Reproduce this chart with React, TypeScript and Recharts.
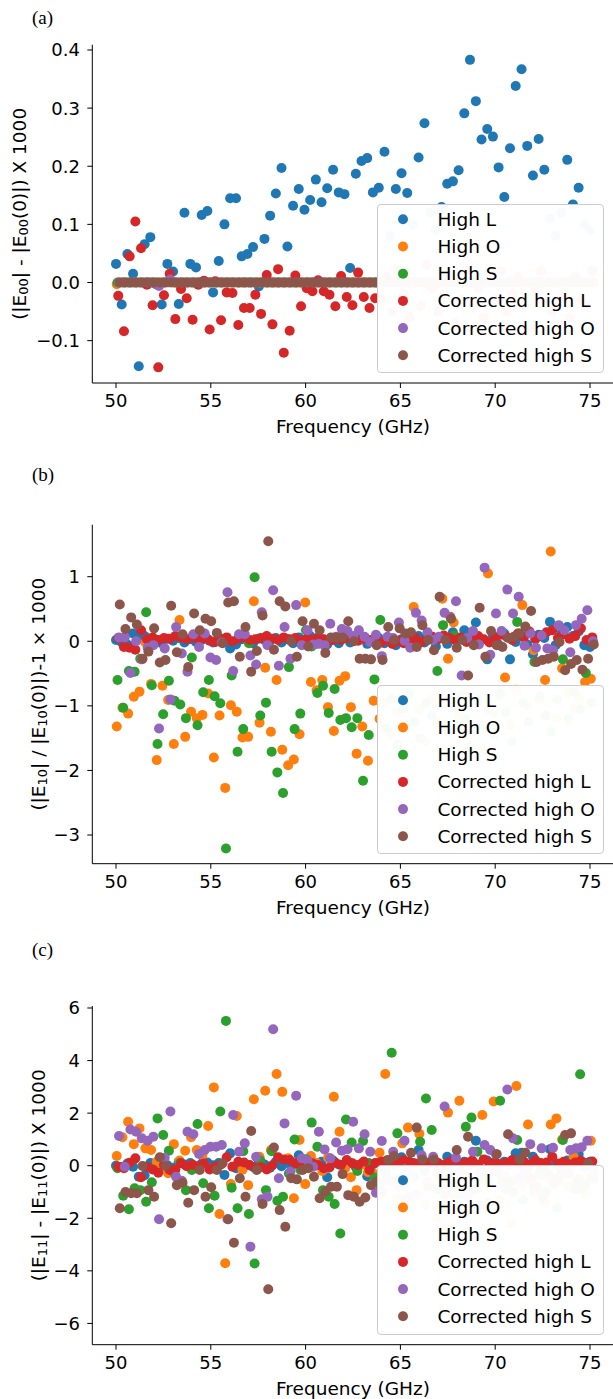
import React from 'react';
import { ScatterChart, Scatter, XAxis, YAxis, Legend } from 'recharts';

// ---------- data ----------
const frequencies = [
  50.00, 50.30, 50.60, 50.90, 51.20, 51.51, 51.81, 52.11, 52.41, 52.71,
  53.01, 53.31, 53.61, 53.92, 54.22, 54.52, 54.82, 55.12, 55.42, 55.72,
  56.02, 56.33, 56.63, 56.93, 57.23, 57.53, 57.83, 58.13, 58.43, 58.73,
  59.04, 59.34, 59.64, 59.94, 60.24, 60.54, 60.84, 61.14, 61.45, 61.75,
  62.05, 62.35, 62.65, 62.95, 63.25, 63.55, 63.86, 64.16, 64.46, 64.76,
  65.06, 65.36, 65.66, 65.96, 66.27, 66.57, 66.87, 67.17, 67.47, 67.77,
  68.07, 68.37, 68.67, 68.98, 69.28, 69.58, 69.88, 70.18, 70.48, 70.78,
  71.08, 71.39, 71.69, 71.99, 72.29, 72.59, 72.89, 73.19, 73.49, 73.80,
  74.10, 74.40, 74.70, 75.00,
];

const seriesNames = ['High L', 'High O', 'High S', 'Corrected high L', 'Corrected high O', 'Corrected high S'];
const seriesColors = ['#1f77b4', '#ff7f0e', '#2ca02c', '#d62728', '#9467bd', '#8c564b'];
// small per-series frequency shift seen in the plot (GHz)
const seriesFreqShift = [0, 0.04, 0.08, 0.12, 0.16, 0.2];

const xTicks = [50, 55, 60, 65, 70, 75];
const yTicksA = [-0.1, 0, 0.1, 0.2, 0.3, 0.4];
const yTicksB = [-3, -2, -1, 0, 1];
const yTicksC = [-6, -4, -2, 0, 2, 4, 6];

// panel (a)
const aHighL = [
  0.032, -0.038, 0.049, 0.015, -0.144, 0.066, 0.078, -0.003, -0.038, 0.032,
  0.019, -0.037, 0.120, 0.032, 0.026, 0.116, 0.123, -0.017, 0.037, 0.100,
  0.145, 0.145, 0.045, 0.049, 0.061, -0.007, 0.075, 0.115, 0.153, 0.197,
  0.062, 0.132, 0.161, 0.125, 0.142, 0.177, 0.138, 0.162, 0.194, 0.155,
  0.152, 0.025, 0.187, 0.209, 0.214, 0.155, 0.163, 0.225, 0.080, 0.161,
  0.188, 0.154, 0.100, 0.215, 0.274, 0.120, 0.090, 0.130, 0.170, 0.174,
  0.193, 0.291, 0.383, 0.312, 0.246, 0.264, 0.251, 0.198, 0.147, 0.231,
  0.338, 0.367, 0.235, 0.184, 0.247, 0.194, 0.110, 0.080, 0.120, 0.211,
  0.134, 0.163, 0.100, 0.090,
];
const aHighO = [
  -0.003, 0, 0, 0, 0, 0, 0, 0, 0, 0,
  0, 0, 0, 0, 0, 0, 0, 0, 0, 0,
  0, 0, 0, 0, 0, 0, 0, 0, 0, 0,
  0, 0, 0, 0, 0, 0, 0, 0, 0, 0,
  0, 0, 0, 0, 0, 0, 0, 0, 0, 0,
  0, 0, 0, 0, 0, 0, 0, 0, 0, 0,
  0, 0, 0, 0, 0, 0, 0, 0, 0, 0,
  0, 0, 0, 0, 0, 0, 0, 0, 0, 0,
  0, 0, 0, 0,
];
const aHighS = [
  0, 0, 0, 0, 0, 0, 0, 0, 0, 0.002,
  0, 0, 0, 0, 0, 0, 0, 0, 0, 0,
  0, 0, 0, 0, 0, 0, 0, 0, 0, 0,
  0, 0, 0, 0, 0, 0, 0, 0, 0, 0,
  0, 0, 0, 0, 0, 0, 0, 0, 0, 0,
  0, 0, 0, 0, 0, 0, 0, 0, 0, 0,
  0, 0, 0, 0, 0, 0, 0, 0, 0, 0,
  0, 0, 0, 0, 0, 0, 0, 0, 0, 0,
  0, 0, 0, 0,
];
const aCorrL = [
  -0.023, -0.084, 0.045, 0.105, 0.059, -0.004, -0.039, -0.146, -0.022, 0.015,
  -0.063, -0.011, -0.027, -0.064, -0.004, 0.003, -0.081, 0.002, -0.065, -0.017,
  -0.018, -0.073, -0.044, -0.044, -0.021, -0.054, 0.013, -0.072, 0.023, -0.121,
  -0.083, 0.012, -0.041, -0.010, -0.015, 0.004, -0.015, -0.021, -0.041, 0.011,
  -0.025, -0.039, 0.017, -0.025, -0.044, -0.027, -0.030, 0.010, -0.050, 0.020,
  -0.020, -0.060, 0.000, -0.040, 0.030, -0.010, -0.050, -0.020, 0.010, -0.070,
  -0.030, 0.020, -0.040, -0.010, -0.060, 0.000, -0.030, 0.020, -0.050, -0.020,
  0.010, -0.040, -0.080, -0.010, 0.020, -0.030, -0.050, 0.000, -0.020, -0.060,
  0.010, -0.030, -0.040, 0.020,
];
const aCorrO = [
  0, 0, 0, 0, 0, 0, 0, -0.006, 0, 0.005,
  0, 0, 0, 0, 0, 0, 0, 0, 0, 0,
  0, 0, 0, 0, 0, 0, 0, 0, 0, 0,
  0, 0, 0, 0, 0, 0, 0, 0, 0, 0,
  0, 0, 0, 0, 0, 0, 0, 0, 0, 0,
  0, 0, 0, 0, 0, 0, 0, 0, 0, 0,
  0, 0, 0, 0, 0, 0, 0, 0, 0, 0,
  0, 0, 0, 0, 0, 0, 0, 0, 0, 0,
  0, 0, 0, 0,
];
const aCorrS = [
  0, 0, 0, 0, 0, 0, 0, 0, 0, 0,
  0, 0, 0, 0, 0, 0, 0, 0, 0, 0,
  0, 0, 0, 0, 0, 0, 0, 0, 0, 0,
  0, 0, 0, 0, 0, 0, 0, 0, 0, 0,
  0, 0, 0, 0, 0, 0, 0, 0, 0, 0,
  0, 0, 0, 0, 0, 0, 0, 0, 0, 0,
  0, 0, 0, 0, 0, 0, 0, 0, 0, 0,
  0, 0, 0, 0, 0, 0, 0, 0, 0, 0,
  0, 0, 0, 0,
];

// panel (b)
const bHighL = [
  0.02, -0.02, -0.05, 0.12, 0.05, 0.08, 0.03, 0.02, -0.03, 0.04,
  0.01, 0.05, -0.02, 0.03, -0.01, 0.02, 0.04, -0.02, 0.06, 0.01,
  -0.11, -0.05, 0.03, 0.02, -0.03, 0.04, 0.02, 0.01, 0.05, -0.02,
  0.03, -0.03, 0.06, 0.02, 0.08, -0.04, 0.03, -0.05, 0.02, -0.03,
  0.05, -0.02, 0.03, 0.07, -0.04, 0.02, 0.05, -0.03, 0.04, -0.06,
  0.03, 0.06, -0.05, 0.08, -0.02, 0.05, -0.08, 0.05, -0.04, 0.14,
  0.04, 0.17, 0.06, 0.29, 0.03, -0.28, 0.08, -0.05, 0.12, -0.28,
  -0.01, 0.09, -0.05, -0.20, 0.10, 0.05, 0.30, -0.06, 0.12, 0.22,
  0.08, 0.15, -0.06, -0.09,
];
const bHighO = [
  -1.32, -1.03, -1.12, -0.86, -0.78, -0.02, -0.66, -1.84, -0.69, -0.91,
  -1.59, 0.33, -1.48, -1.09, -1.19, -1.14, -0.81, -1.80, -1.15, -2.27,
  -0.99, -1.09, -1.49, -1.48, 0.62, -1.26, -0.41, -1.40, -0.60, -1.68,
  -1.92, -1.83, -1.44, 0.60, -0.63, -0.76, -0.60, -1.02, -1.39, -0.61,
  -0.54, -1.02, -1.74, -1.32, -1.85, -0.92, -1.20, -0.95, -1.45, -1.10,
  -0.85, -1.30, 0.53, -1.05, -1.55, -0.90, -1.25, 0.66, -0.27, 0.29,
  -1.15, -0.80, -1.40, -0.95, -1.70, 1.05, -1.10, -0.85, -0.56, -1.30,
  -0.75, 0.56, -1.00, -0.14, -0.90, -0.60, 1.39, -1.20, -0.42, -0.80,
  -1.05, -0.88, -0.63, -0.58,
];
const bHighS = [
  -0.60, -1.03, -0.46, -0.47, -0.27, 0.45, -0.68, -1.59, -1.13, -0.61,
  -0.92, -0.98, -1.19, -0.25, -1.30, -0.79, -0.60, -0.85, -0.96, -3.21,
  -0.53, -1.71, -1.36, -0.03, 0.99, -1.15, -0.95, -1.71, -2.03, -2.35,
  -0.40, -1.36, -1.12, 0.17, -0.08, -0.80, -0.69, -1.11, -0.74, -1.22,
  -1.19, -1.33, -1.19, -2.16, -1.45, -0.59, 0.33, -1.35, -0.90, -1.60,
  -1.05, -0.80, -1.25, -1.50, -0.95, -1.15, -0.46, 0.25, -1.40, 0.09,
  -0.85, -1.20, -1.65, -0.90, -1.30, -1.05, -1.45, -0.80, -1.10, -1.55,
  0.30, -0.95, -1.25, -0.32, -0.85, -1.15, -1.40, -0.90, -0.28, -1.20,
  -0.78, -1.05, -0.49, -0.95,
];
const bCorrL = [
  0.05, -0.09, -0.10, -0.13, 0.17, 0.03, 0.06, 0.02, 0.05, 0.04,
  0.08, 0.06, 0.03, 0.07, 0.02, 0.05, 0.01, -0.01, 0.03, 0.06,
  0.00, 0.04, 0.07, 0.02, 0.03, 0.05, 0.08, 0.04, 0.02, 0.06,
  0.03, 0.05, 0.01, 0.04, 0.02, 0.06, 0.03, 0.00, 0.04, 0.02,
  0.05, 0.03, 0.01, 0.04, 0.02, 0.00, -0.02, 0.03, -0.04, 0.01,
  -0.03, 0.02, 0.05, -0.02, 0.04, 0.07, 0.03, 0.09, 0.05, 0.02,
  0.06, -0.01, 0.04, 0.08, 0.03, -0.02, 0.05, 0.10, 0.07, 0.02,
  0.12, 0.06, 0.15, 0.03, 0.09, 0.14, 0.17, 0.05, 0.11, 0.04,
  0.08, 0.20, 0.02, 0.06,
];
const bCorrO = [
  0.06, 0.06, -0.49, 0.00, -0.28, -0.10, -0.06, -1.35, -0.11, -0.90,
  0.22, -0.19, -0.47, 0.11, -0.09, 0.12, -0.25, -0.29, -0.02, 0.76,
  -0.46, 0.11, 0.11, -0.22, -0.36, 0.45, -0.06, 0.79, -0.38, 0.22,
  -0.27, 0.56, -0.06, 0.17, -0.05, -0.04, -0.06, 0.27, 0.07, 0.19,
  0.16, 0.08, 0.17, 0.07, -0.01, 0.10, -0.23, 0.07, 0.05, 0.29,
  0.01, -0.10, 0.44, 0.32, 0.14, 0.02, 0.07, 0.44, 0.38, 0.62,
  -0.53, 0.05, 0.16, -0.05, 1.14, -0.21, 0.43, 0.16, 0.80, 0.43,
  0.69, -0.07, 0.12, -0.10, 0.09, -0.11, -0.14, 0.25, 0.17, -0.17,
  0.25, 0.35, 0.48, 0.00,
];
const bCorrS = [
  0.57, 0.19, 0.37, 0.26, -0.27, -0.16, 0.20, -0.33, -0.29, 0.55,
  -0.17, 0.11, -0.40, 0.43, 0.17, 0.35, 0.31, 0.13, -0.03, 0.60,
  0.62, -0.24, 0.22, -0.47, -0.15, 0.40, 1.55, -0.13, 0.62, 0.54,
  0.00, -0.24, 0.31, -0.08, 0.27, 0.17, -0.18, 0.06, 0.06, 0.06,
  0.31, 0.00, -0.27, -0.27, -0.28, -0.06, -0.29, 0.22, 0.02, 0.20,
  0.12, 0.14, -0.09, 0.25, 0.02, -0.14, 0.69, 0.02, 0.35, -0.10,
  0.02, -0.53, -0.06, 0.52, -0.24, 0.16, -0.06, -0.09, 0.05, 0.07,
  0.12, 0.23, 0.47, -0.32, -0.29, -0.27, -0.24, -0.01, -0.45, -0.35,
  -0.29, -0.44, -0.27, -0.05,
];

// panel (c)
const cHighL = [
  0.00, -0.05, 0.08, -0.04, -0.42, -0.36, 0.10, 0.05, 0.12, 0.02,
  -0.08, 0.15, 0.05, 0.10, -0.03, 0.08, 0.12, 0.02, 0.10, -0.35,
  0.47, -0.10, 0.08, 0.03, -0.05, 0.12, 0.05, -0.08, 0.15, -0.02,
  0.10, 0.05, 0.40, 0.12, -0.05, 0.08, 0.15, -0.44, 0.20, 0.05,
  0.02, 0.10, -0.06, 0.08, -0.40, 0.05, 0.12, -0.10, 0.20, 0.05,
  0.32, -0.15, 0.10, 0.60, -0.20, 0.15, 0.05, -0.10, 0.34, 0.10,
  -0.25, 0.15, 0.05, 0.95, -0.15, 0.20, 0.10, -0.30, 0.15, 0.05,
  0.47, 0.49, -0.10, 0.34, 0.10, -0.20, 0.63, 0.05, -0.15, 0.20,
  0.10, 0.44, -0.05, 0.15,
];
const cHighO = [
  0.37, 1.08, 1.67, 0.82, 1.42, 0.66, 0.60, 0.15, -0.10, -0.29,
  0.82, 0.20, 0.57, 1.08, 0.60, 0.41, 1.51, 2.98, -1.84, -3.71,
  -0.70, 1.89, -0.15, -0.74, 2.53, 0.34, 2.85, 0.60, 3.49, 2.81,
  0.28, -1.24, 0.98, -0.70, 0.37, 0.10, -0.20, 0.30, 2.62, 1.29,
  -0.10, -0.44, -0.93, 0.05, -0.25, -0.30, 0.49, 3.49, -0.60, -1.20,
  0.85, 1.45, -0.40, 1.21, -1.50, -0.80, -2.00, -0.50, 2.02, -1.10,
  2.47, -0.30, -1.70, -0.90, 1.93, -0.60, 2.44, -1.30, -0.40, -2.20,
  3.03, -0.70, 1.57, -1.00, -0.35, -1.40, 1.57, 1.80, 1.00, -0.80,
  0.34, -0.50, -1.10, 0.95,
];
const cHighS = [
  -0.10, -1.14, -1.66, -0.86, -0.93, -1.37, -0.63, 1.80, 1.17, 0.57,
  -0.30, 0.11, -0.93, -0.16, 1.59, -0.67, -1.62, -1.14, 2.06, 5.51,
  -0.84, -1.62, 0.55, -1.84, -3.72, 0.20, -0.93, 0.55, -1.33, -1.18,
  -0.30, 1.00, -0.15, 0.25, 1.64, 0.72, -0.93, -1.18, -1.46, -2.58,
  1.76, 0.88, -0.20, 0.94, 0.10, -0.45, -0.80, -0.30, 4.30, 1.23,
  -0.60, -1.20, -0.40, 0.91, 2.56, 1.36, -0.90, -1.50, -0.30, -0.70,
  -1.10, 1.48, 1.83, 0.53, -0.50, -1.40, -0.20, 2.47, -0.90, -0.60,
  0.98, -1.30, -0.40, -0.80, -0.20, -1.00, -0.50, -1.60, 0.98, -0.30,
  -0.90, 3.48, -0.70, -0.40,
];
const cCorrL = [
  -0.04, -0.10, 0.11, 0.28, -0.44, -0.05, -0.14, -0.27, 0.03, -0.16,
  -0.14, 0.09, -0.02, 0.04, -0.03, 0.08, -0.14, -0.04, 0.05, 0.32,
  -0.04, 0.15, 0.12, 0.03, -0.10, -0.05, -0.14, 0.02, 0.32, 0.24,
  0.22, 0.09, 0.03, -0.04, 0.09, 0.03, -0.10, -0.07, 0.11, 0.03,
  0.22, 0.09, 0.03, 0.16, -0.16, 0.10, 0.15, 0.20, 0.05, 0.10,
  0.22, 0.15, 0.08, 0.12, 0.05, 0.19, 0.10, 0.03, 0.15, 0.24,
  0.08, 0.12, 0.20, 0.05, 0.24, 0.10, 0.15, 0.06, 0.12, 0.22,
  0.08, 0.15, 0.05, 0.22, 0.10, 0.12, 0.34, 0.08, 0.15, 0.05,
  0.12, 0.19, 0.10, 0.16,
];
const cCorrO = [
  1.13, -0.04, 1.38, 1.29, 1.04, 0.95, 1.10, -2.04, 0.30, 2.06,
  -0.42, -0.57, 1.29, 1.20, 0.45, 0.60, 0.72, 0.72, 0.79, -2.04,
  1.93, 0.53, 0.85, -3.08, 0.34, -1.28, -1.18, 5.19, -0.48, 1.61,
  -0.23, 2.66, 0.28, 0.20, -0.04, 1.29, 0.62, 0.28, 0.88, 0.57,
  0.63, 1.67, 0.66, 1.20, 0.53, -1.03, 0.94, -0.50, 0.53, -0.80,
  0.95, -0.30, -1.10, 0.40, -0.60, 0.34, -0.20, 2.25, -0.90, 0.30,
  -0.40, -1.20, 0.53, -0.30, 0.79, 0.60, 0.44, -0.70, 2.90, 1.04,
  -0.50, -0.20, 0.82, -0.90, 0.66, -0.40, 0.68, -0.60, -0.30, 0.60,
  0.66, 0.70, 0.95, -0.20,
];
const cCorrS = [
  -1.62, -1.00, -1.05, -1.05, -0.01, -0.93, -1.18, 0.32, -0.01, -2.19,
  -0.74, -0.65, -1.41, -0.93, -0.16, -1.18, -0.82, -0.16, 0.09, -2.04,
  -2.93, -0.48, -1.18, 1.32, -0.16, -1.46, -4.70, 0.69, -1.69, -2.32,
  -0.48, -0.52, -0.16, -0.10, -0.42, -1.24, -0.99, -0.80, -0.80, -0.32,
  -1.12, -1.18, -1.37, -1.21, -0.74, -0.60, -1.00, 0.22, 0.37, -0.50,
  -1.30, 0.49, 1.45, 0.24, -0.80, 0.24, -0.40, -1.10, -0.70, 0.60,
  -0.30, 1.10, -0.90, -1.50, -0.40, -0.20, 0.44, -0.60, 1.20, -1.00,
  0.24, 0.49, -0.50, -0.80, -1.20, -0.30, -0.70, -0.40, 1.17, 1.23,
  -0.60, -0.90, 0.09, -0.50,
];

// ---------- layout ----------
const FONT = '"DejaVu Sans", Verdana, sans-serif';
const SERIF = '"Liberation Serif", "Times New Roman", serif';
const CHART_W = 640;
const PLOT_LEFT = 92.3;
const PLOT_RIGHT = 613.7;
const X_AXIS_H = 40;
const TICK_FS = 18;
const LABEL_FS = 18.5;

type Panel = {
  tag: string;
  top: number;
  height: number;
  plotTop: number;
  plotBottom: number;
  yDomain: [number, number];
  yTicks: number[];
  decimals: number;
  series: number[][];
  legendTop: number;
  legendH: number;
  yLabelX: number;
  tagBaseline: number;
  sub: string;
  mid: string;
  tail: string;
};

const panels: Panel[] = [
  {
    tag: '(a)', top: 0, height: 440, plotTop: 44.7, plotBottom: 383,
    yDomain: [-0.1729, 0.4091], yTicks: yTicksA, decimals: 1,
    series: [aHighL, aHighO, aHighS, aCorrL, aCorrO, aCorrS],
    legendTop: 204, legendH: 169.3, yLabelX: 19.5, tagBaseline: 24.1,
    sub: '00', mid: '| - |E', tail: '(0)|) X 1000',
  },
  {
    tag: '(b)', top: 460, height: 460, plotTop: 524.7, plotBottom: 863.7,
    yDomain: [-3.444, 1.805], yTicks: yTicksB, decimals: 0,
    series: [bHighL, bHighO, bHighS, bCorrL, bCorrO, bCorrS],
    legendTop: 685, legendH: 169.3, yLabelX: 38, tagBaseline: 480.8,
    sub: '10', mid: '| / |E', tail: '(0)|)-1 \u00d7 1000',
  },
  {
    tag: '(c)', top: 930, height: 469, plotTop: 1006, plotBottom: 1344.7,
    yDomain: [-6.81, 6.076], yTicks: yTicksC, decimals: 0,
    series: [cHighL, cHighO, cHighS, cCorrL, cCorrO, cCorrS],
    legendTop: 1165, legendH: 170, yLabelX: 38, tagBaseline: 955.8,
    sub: '11', mid: '| - |E', tail: '(0)|) X 1000',
  },
];

const fmt = (decimals: number) => (v: number) => {
  const s = Math.abs(v) < 1e-9 ? (0).toFixed(decimals) : v.toFixed(decimals);
  return s.replace('-', '\u2212');
};

const LegendBox = ({ h }: { h: number }) => (
  <div
    style={{
      width: 227,
      height: h,
      boxSizing: 'border-box',
      border: '1px solid #cccccc',
      borderRadius: 4,
      background: 'rgba(255,255,255,0.97)',
      position: 'relative',
    }}
  >
    <svg width={227} height={h} style={{ position: 'absolute', left: -1, top: -1, overflow: 'visible' }}>
      {seriesNames.map((n, k) => (
        <g key={n}>
          <circle cx={26} cy={15.3 + 27.2 * k} r={5} fill={seriesColors[k]} />
          <text
            x={60.4}
            y={15.3 + 27.2 * k}
            dominantBaseline="central"
            fontFamily={FONT}
            fontSize={LABEL_FS}
            fill="#000"
          >
            {n}
          </text>
        </g>
      ))}
    </svg>
  </div>
);

const dot = (color: string) => (p: any) =>
  p.cx == null || p.cy == null ? <g /> : <circle cx={p.cx} cy={p.cy} r={5} fill={color} />;

const PanelChart = ({ p }: { p: Panel }) => {
  const mTop = p.plotTop - p.top;
  const mBottom = p.height - (p.plotBottom - p.top) - X_AXIS_H;
  return (
    <div style={{ position: 'absolute', left: 0, top: p.top, width: CHART_W, height: p.height }}>
      <ScatterChart
        width={CHART_W}
        height={p.height}
        margin={{ top: mTop, bottom: mBottom, left: PLOT_LEFT - 80, right: CHART_W - PLOT_RIGHT }}
      >
        <XAxis
          xAxisId="b"
          type="number"
          dataKey="x"
          domain={[48.75, 76.25]}
          ticks={xTicks}
          allowDataOverflow
          height={X_AXIS_H}
          tickSize={5}
          tickMargin={6.6}
          axisLine={{ stroke: '#000', strokeWidth: 1 }}
          tickLine={{ stroke: '#000', strokeWidth: 1 }}
          tick={{ fill: '#000', fontSize: TICK_FS, fontFamily: FONT }}
          interval={0}
        />
        <XAxis
          xAxisId="t"
          orientation="top"
          type="number"
          domain={[48.75, 76.25]}
          allowDataOverflow
          height={0}
          tick={false}
          tickLine={false}
          axisLine={{ stroke: '#000', strokeWidth: 1 }}
        />
        <YAxis
          type="number"
          dataKey="y"
          domain={p.yDomain}
          ticks={p.yTicks}
          allowDataOverflow
          width={80}
          tickSize={5}
          tickMargin={7.3}
          interval={0}
          tickFormatter={fmt(p.decimals)}
          axisLine={{ stroke: '#000', strokeWidth: 1 }}
          tickLine={{ stroke: '#000', strokeWidth: 1 }}
          tick={{ fill: '#000', fontSize: TICK_FS, fontFamily: FONT }}
        />
        {p.series.map((vals, k) => (
          <Scatter
            key={seriesNames[k]}
            name={seriesNames[k]}
            xAxisId="b"
            data={vals.map((v, i) => ({ x: frequencies[i] + seriesFreqShift[k], y: v }))}
            fill={seriesColors[k]}
            shape={dot(seriesColors[k])}
            isAnimationActive={false}
          />
        ))}
        <Legend
          layout="vertical"
          align="center"
          verticalAlign="middle"
          content={() => <LegendBox h={p.legendH} />}
          wrapperStyle={{ position: 'absolute', left: 377.3, top: p.legendTop - p.top, width: 227, height: p.legendH, margin: 0, padding: 0 }}
        />
      </ScatterChart>
    </div>
  );
};

const Titles = () => (
  <svg width={613} height={1399} style={{ position: 'absolute', left: 0, top: 0 }}>
    {panels.map((p) => {
      const cy = (p.plotTop + p.plotBottom) / 2;
      return (
        <g key={p.tag}>
          <text x={32} y={p.tagBaseline} fontFamily={SERIF} fontSize={19} fill="#000">
            {p.tag}
          </text>
          <text
            x={(PLOT_LEFT + PLOT_RIGHT) / 2}
            y={p.plotBottom + 43.3}
            textAnchor="middle"
            dominantBaseline="central"
            fontFamily={FONT}
            fontSize={LABEL_FS}
            fill="#000"
          >
            Frequency (GHz)
          </text>
          <text
            x={p.yLabelX}
            y={cy}
            transform={`rotate(-90, ${p.yLabelX}, ${cy})`}
            textAnchor="middle"
            dominantBaseline="central"
            fontFamily={FONT}
            fontSize={LABEL_FS}
            fill="#000"
          >
            <tspan>(|E</tspan>
            <tspan fontSize={13} dy={4}>{p.sub}</tspan>
            <tspan dy={-4}>{p.mid}</tspan>
            <tspan fontSize={13} dy={4}>{p.sub}</tspan>
            <tspan dy={-4}>{p.tail}</tspan>
          </text>
        </g>
      );
    })}
  </svg>
);

export default function App() {
  return (
    <div
      style={{
        position: 'absolute',
        left: 0,
        top: 0,
        width: 613,
        height: 1399,
        overflow: 'hidden',
        background: '#fff',
      }}
    >
      <Titles />
      {panels.map((p) => (
        <PanelChart key={p.tag} p={p} />
      ))}
    </div>
  );
}
